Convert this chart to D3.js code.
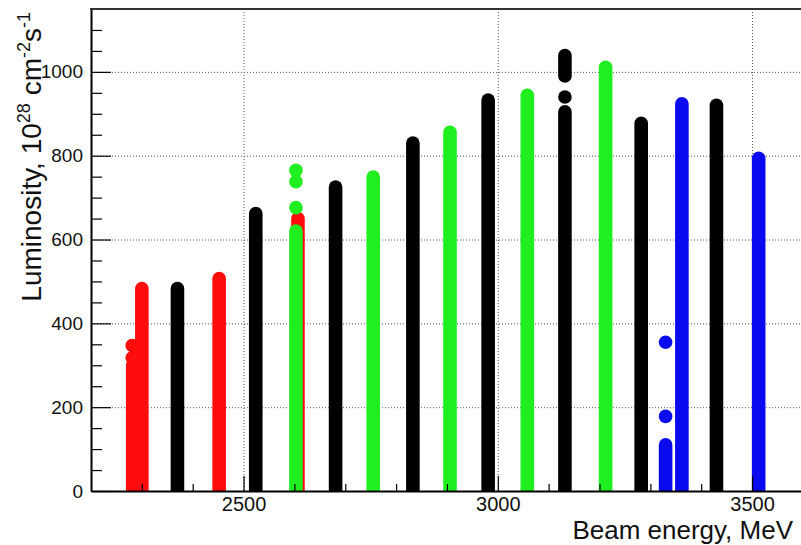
<!DOCTYPE html>
<html>
<head>
<meta charset="utf-8">
<script src="https://cdn.jsdelivr.net/npm/d3@7"></script>
<style>
  body { margin: 0; background: #fff; }
  svg { display: block; font-family: "Liberation Sans", Arial, Helvetica, sans-serif; }
</style>
</head>
<body>
<svg id="chart" width="801" height="545"></svg>
<script>
// beam energy (MeV), luminosity from, luminosity to -- one vertical run of points per scan
const redRuns = [[2282, 0, 300], [2300, 0, 483], [2452, 0, 507], [2607, 0, 650]];
const redPoints = [[2281, 318], [2281, 347]];
const blackRuns = [[2370, 0, 483], [2524, 0, 662], [2681, 0, 725], [2833, 0, 830], [2981, 0, 933],
                   [3132, 0, 905], [3132, 990, 1039], [3282, 0, 877], [3430, 0, 920]];
const blackPoints = [[3132, 940]];
const greenRuns = [[2603, 0, 620], [2755, 0, 749], [2906, 0, 856], [3058, 0, 944], [3212, 0, 1011]];
const greenPoints = [[2603, 676], [2603, 738], [2603, 765]];
const blueRuns = [[3330, 0, 110], [3362, 0, 924], [3513, 0, 794]];
const bluePoints = [[3330, 178], [3330, 355]];

const xMajor = [2500, 3000, 3500];
const yMajor = [0, 200, 400, 600, 800, 1000];

const svg = d3.select('#chart');
const padL = 91, padT = 9, axisY = 491;
const W = 801;
const font = '"Liberation Sans", Arial, Helvetica, sans-serif';

const x = d3.scaleLinear().domain([2200, 3700]).range([padL, padL + 1500 * 0.5085]);
const y = d3.scaleLinear().domain([0, 1150]).range([axisY, padT]);

// grid
const grid = svg.append('g')
	.attr('stroke', '#555')
	.attr('stroke-width', 1)
	.attr('stroke-dasharray', '1,2');
grid.selectAll('.hg').data(yMajor.filter(d => d > 0)).join('line')
	.attr('x1', padL).attr('x2', W)
	.attr('y1', d => y(d) + 0.5).attr('y2', d => y(d) + 0.5);
grid.selectAll('.vg').data(xMajor).join('line')
	.attr('x1', d => x(d) + 0.5).attr('x2', d => x(d) + 0.5)
	.attr('y1', padT).attr('y2', axisY);

// data
svg.append('clipPath').attr('id', 'plot')
	.append('rect').attr('x', padL).attr('y', padT).attr('width', W - padL).attr('height', axisY - padT);
const marks = svg.append('g').attr('clip-path', 'url(#plot)');
const R = 6.8;

function drawSeries(runs, points, colour){
	const g = marks.append('g');
	g.selectAll('line').data(runs).join('line')
		.attr('x1', d => x(d[0])).attr('x2', d => x(d[0]))
		.attr('y1', d => y(d[1])).attr('y2', d => y(d[2]))
		.attr('stroke', colour)
		.attr('stroke-width', R * 2)
		.attr('stroke-linecap', 'round');
	g.selectAll('circle').data(points).join('circle')
		.attr('cx', d => x(d[0])).attr('cy', d => y(d[1]))
		.attr('r', R)
		.attr('fill', colour);
}
drawSeries(redRuns, redPoints, '#ff0d0d');
drawSeries(blackRuns, blackPoints, '#000');
drawSeries(greenRuns, greenPoints, '#1fee1f');
drawSeries(blueRuns, bluePoints, '#0a0aee');

// axes
const yAxis = svg.append('g').attr('transform', `translate(${padL},0)`)
	.call(d3.axisLeft(y).tickValues(yMajor).tickSizeInner(-20).tickSizeOuter(0).tickPadding(8).tickFormat(d3.format('d')));
svg.append('g').attr('transform', `translate(${padL},0)`)
	.call(d3.axisLeft(y).tickValues(d3.range(50, 1150, 50).filter(d => d % 200)).tickSize(-11).tickFormat(''))
	.call(g => g.select('.domain').remove());

const xAxis = svg.append('g').attr('transform', `translate(0,${axisY})`)
	.call(d3.axisBottom(x).tickValues(xMajor).tickSizeInner(-15).tickSizeOuter(0).tickPadding(6).tickFormat(d3.format('d')));
svg.append('g').attr('transform', `translate(0,${axisY})`)
	.call(d3.axisBottom(x).tickValues(d3.range(2300, 3700, 100).filter(d => d % 500)).tickSize(-7).tickFormat(''))
	.call(g => g.select('.domain').remove());

svg.selectAll('.tick line').attr('stroke', '#000').attr('stroke-width', 1.2);
svg.selectAll('.domain').attr('stroke', '#000').attr('stroke-width', 2);
yAxis.selectAll('text').attr('font-size', 19).attr('font-family', font).attr('fill', '#111');
xAxis.selectAll('text').attr('font-size', 20).attr('font-family', font).attr('fill', '#111');

// frame top
svg.append('line')
	.attr('x1', padL - 1).attr('x2', W)
	.attr('y1', padT).attr('y2', padT)
	.attr('stroke', '#333').attr('stroke-width', 2);

// titles
svg.append('text')
	.attr('x', 793).attr('y', 539)
	.attr('text-anchor', 'end')
	.attr('font-size', 26)
	.attr('fill', '#111')
	.text('Beam energy, MeV');

const yt = svg.append('text')
	.attr('transform', 'translate(41,12) rotate(-90)')
	.attr('text-anchor', 'end')
	.attr('font-size', 28)
	.attr('fill', '#111');
yt.append('tspan').text('Luminosity, 10');
yt.append('tspan').attr('font-size', 18).attr('dy', -11).text('28');
yt.append('tspan').attr('dy', 11).text(' cm');
yt.append('tspan').attr('font-size', 18).attr('dy', -11).text('-2');
yt.append('tspan').attr('dy', 11).text('s');
yt.append('tspan').attr('font-size', 18).attr('dy', -11).text('-1');
</script>
</body>
</html>
